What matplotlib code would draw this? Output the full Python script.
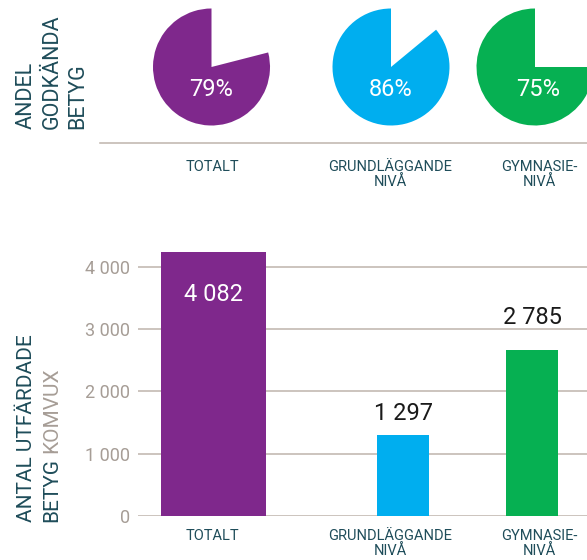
import matplotlib
matplotlib.use('Agg')
import matplotlib.pyplot as plt
from matplotlib.lines import Line2D

plt.rcParams['font.family'] = ['Roboto', 'DejaVu Sans']

# data
kategorier = ['TOTALT', 'GRUNDLÄGGANDE\nNIVÅ', 'GYMNASIE-\nNIVÅ']
andel_godkanda = [79, 86, 75]                 # procent
antal_betyg = [4244, 1297, 2664]              # stapelhöjd så som den är ritad
antal_text = ['4 082', '1 297', '2 785']      # tryckta värden
y_ticks = [0, 1000, 2000, 3000, 4000]
y_ticklabels = ['0', '1 000', '2 000', '3 000', '4 000']

farger = ['#7f288c', '#00aeef', '#06b052']
teal = '#1f4d5a'
gra = '#a69d96'
linje = '#beb4ac'

W, H = 587, 560
fig = plt.figure(figsize=(W / 100, H / 100), dpi=100)


def px(x, y):
    # pixel (från övre vänstra hörnet) -> figurkoordinat
    return x / W, 1 - y / H


# ---- övre delen: tårtor ----
pie_cx = [211.5, 391, 535]
pie_cy = 67
r = 58.5
for i in range(3):
    ax = fig.add_axes([(pie_cx[i] - r) / W, 1 - (pie_cy + r) / H, 2 * r / W, 2 * r / H])
    ax.pie([andel_godkanda[i], 100 - andel_godkanda[i]], colors=[farger[i], 'none'],
           startangle=90, counterclock=True, radius=1)
    ax.set_xlim(-1, 1)
    ax.set_ylim(-1, 1)
    ax.set_aspect('equal')
    ax.axis('off')
    ax.text(0.05 if i == 2 else 0, -0.39, f'{andel_godkanda[i]}%', color='white', fontsize=17,
            ha='center', va='center')

fig.add_artist(Line2D([100 / W, 1], [1 - 143 / H] * 2, color=linje, lw=1.1))

etikett_x = [212, 390, 539]
for i in range(3):
    fig.text(*px(etikett_x[i], 160), kategorier[i], color=teal, fontsize=10.5,
             ha='center', va='top', linespacing=1.05)

for j, rad in enumerate(['ANDEL', 'GODKÄNDA', 'BETYG']):
    fig.text(*px(31.5 + j * 26, 129), rad, color=teal, fontsize=15.5,
             rotation=90, rotation_mode='anchor', ha='left', va='baseline')

# ---- nedre delen: staplar ----
ax2 = fig.add_axes([138 / W, 1 - 515.7 / H, (W - 138) / W, (515.7 - 248.3) / H])
ax2.set_ylim(0, 4300)
bar_x = [0, 1.469, 2.469]
bar_w = [0.814, 0.403, 0.403]
ax2.set_xlim(-0.585, 2.895)
ax2.bar(bar_x, antal_betyg, width=bar_w, color=farger, zorder=3)
for t in y_ticks:
    ax2.axhline(t, color=linje, lw=1.1, zorder=1)
for s in ax2.spines.values():
    s.set_visible(False)
ax2.set_yticks(y_ticks)
ax2.set_yticklabels(y_ticklabels, color=gra, fontsize=13)
ax2.tick_params(axis='y', length=0, pad=6)
ax2.set_xticks([])

# värdeetiketter
offset_px = [-43, 22, 33]
for i in range(3):
    ax2.annotate(antal_text[i], (bar_x[i], antal_betyg[i]), xytext=(0, offset_px[i] * 0.72),
                 textcoords='offset points', ha='center', va='center', fontsize=17,
                 color='white' if i == 0 else '#1a1a1a', zorder=4)

for i in range(3):
    fig.text(*px(etikett_x[i], 529), kategorier[i], color=teal, fontsize=10.5,
             ha='center', va='top', linespacing=1.05)

fig.text(*px(32, 522), 'ANTAL UTFÄRDADE', color=teal, fontsize=15,
         rotation=90, rotation_mode='anchor', ha='left', va='baseline')
t1 = fig.text(*px(57, 522), 'BETYG', color=teal, fontsize=15,
              rotation=90, rotation_mode='anchor', ha='left', va='baseline')
fig.canvas.draw()
bb = t1.get_window_extent()
fig.text(57 / W, (bb.y1 + 5) / H, 'KOMVUX', color=gra, fontsize=15,
         rotation=90, rotation_mode='anchor', ha='left', va='baseline')

fig.savefig('out.png', dpi=100)
